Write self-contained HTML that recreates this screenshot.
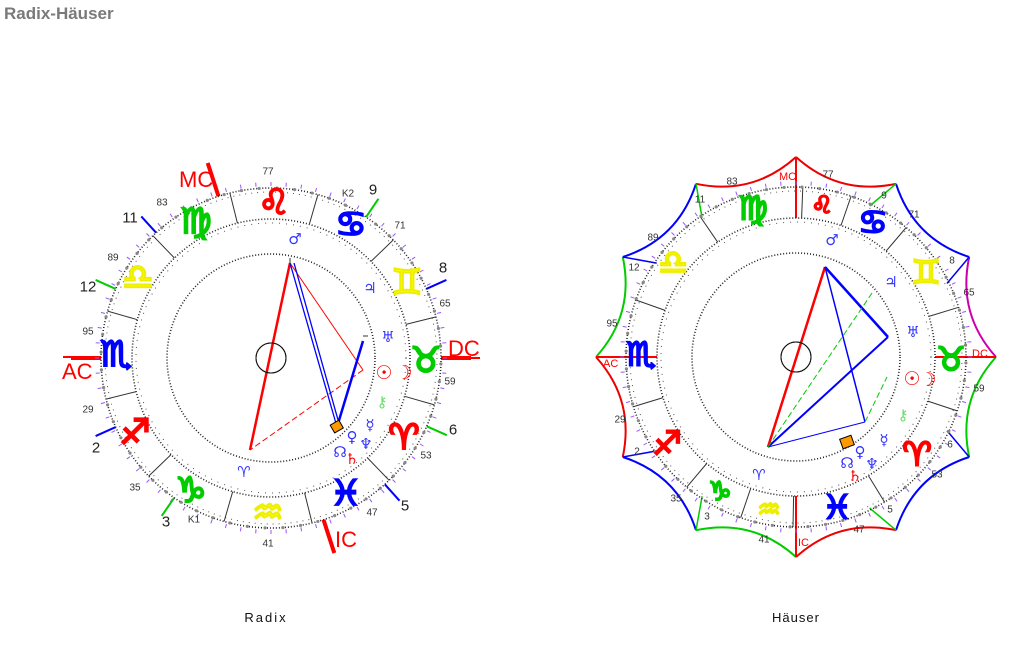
<!DOCTYPE html>
<html><head><meta charset="utf-8"><style>
html,body{margin:0;padding:0;background:#fff;width:1024px;height:651px;overflow:hidden}
svg{position:absolute;left:0;top:0}
.t{font-family:"Liberation Sans",sans-serif}
.g{font-family:"DejaVu Sans",sans-serif;font-weight:bold;text-anchor:middle;dominant-baseline:central}
.n{font-family:"Liberation Sans",sans-serif;font-size:10px;fill:#333;text-anchor:middle;dominant-baseline:central}
.h{font-family:"Liberation Sans",sans-serif;font-size:15px;fill:#222;text-anchor:middle;dominant-baseline:central}
.p{font-family:"DejaVu Sans",sans-serif;font-size:15px;text-anchor:middle;dominant-baseline:central}
</style></head><body>
<svg id="s" width="1024" height="651" viewBox="0 0 1024 651" xmlns="http://www.w3.org/2000/svg">
<g id="geo"></g>
<text x="4" y="19" class="t" font-size="17" font-weight="bold" fill="#7a7a7a">Radix-Häuser</text>
<text x="266" y="622" class="t" font-size="13" fill="#111" text-anchor="middle" letter-spacing="2">Radix</text>
<text x="796" y="622" class="t" font-size="13" fill="#111" text-anchor="middle" letter-spacing="1">Häuser</text>

<g class="g" font-size="35" stroke-width="2">
<text x="274" y="203" fill="#f00" stroke="#f00">♌</text>
<text x="351" y="225" fill="#00f" stroke="#00f">♋</text>
<text x="407" y="283" fill="#ff0" stroke="#ee0">♊</text>
<text x="426" y="361" fill="#0c0" stroke="#0c0">♉</text>
<text x="404" y="438" fill="#f00" stroke="#f00">♈</text>
<text x="346" y="494" fill="#00f" stroke="#00f">♓</text>
<text x="268" y="513" fill="#ff0" stroke="#ee0">♒</text>
<text x="191" y="491" fill="#0c0" stroke="#0c0">♑</text>
<text x="135" y="433" fill="#f00" stroke="#f00">♐</text>
<text x="116" y="355" fill="#00f" stroke="#00f">♏</text>
<text x="138" y="278" fill="#ff0" stroke="#ee0">♎</text>
<text x="196" y="222" fill="#0c0" stroke="#0c0">♍</text>
</g>
<g class="g" font-size="33" stroke-width="2">
<text x="822" y="205" fill="#f00" stroke="#f00" font-size="24">♌</text>
<text x="873" y="222" fill="#00f" stroke="#00f">♋</text>
<text x="926" y="272" fill="#ff0" stroke="#ee0">♊</text>
<text x="951" y="359" fill="#0c0" stroke="#0c0">♉</text>
<text x="917" y="454" fill="#f00" stroke="#f00">♈</text>
<text x="837" y="507" fill="#00f" stroke="#00f">♓</text>
<text x="769" y="510" fill="#ff0" stroke="#ee0" font-size="26">♒</text>
<text x="720" y="492" fill="#0c0" stroke="#0c0" font-size="26">♑</text>
<text x="667" y="443" fill="#f00" stroke="#f00">♐</text>
<text x="641" y="354" fill="#00f" stroke="#00f">♏</text>
<text x="673" y="262" fill="#ff0" stroke="#ee0">♎</text>
<text x="753" y="208" fill="#0c0" stroke="#0c0">♍</text>
</g>

<g class="p">
<text x="295" y="239" fill="#33f">♂</text>
<text x="370" y="288" fill="#33f">♃</text>
<text x="388" y="337" fill="#33f">♅</text>
<text x="384" y="373" fill="#f00" font-size="19">☉</text>
<text x="404" y="373" fill="#f00" font-size="19">☽</text>
<text x="382" y="402" fill="#6d6">⚷</text>
<text x="370" y="425" fill="#33f">☿</text>
<text x="352" y="437" fill="#33f">♀</text>
<text x="366" y="444" fill="#33f">♆</text>
<text x="340" y="452" fill="#33f">☊</text>
<text x="352" y="459" fill="#f00">♄</text>
<text x="244" y="472" fill="#33f">♈</text>
</g>
<g class="p">
<text x="832" y="240" fill="#33f">♂</text>
<text x="891" y="282" fill="#33f">♃</text>
<text x="913" y="332" fill="#33f">♅</text>
<text x="912" y="379" fill="#f00" font-size="19">☉</text>
<text x="928" y="380" fill="#f00" font-size="19">☽</text>
<text x="903" y="415" fill="#6d6">⚷</text>
<text x="884" y="440" fill="#33f">☿</text>
<text x="860" y="452" fill="#33f">♀</text>
<text x="872" y="464" fill="#33f">♆</text>
<text x="847" y="463" fill="#33f">☊</text>
<text x="855" y="476" fill="#f00">♄</text>
<text x="759" y="475" fill="#33f">♈</text>
</g>

<g class="n">
<text x="268" y="172">77</text><text x="162" y="203">83</text><text x="113" y="258">89</text>
<text x="88" y="332">95</text><text x="88" y="410">29</text><text x="135" y="488">35</text>
<text x="268" y="544">41</text><text x="372" y="513">47</text><text x="426" y="456">53</text>
<text x="450" y="382">59</text><text x="445" y="304">65</text><text x="400" y="226">71</text>
<text x="348" y="194">K2</text><text x="194" y="520">K1</text>
</g>
<g class="h">
<text x="130" y="218">11</text><text x="88" y="287">12</text><text x="96" y="448">2</text>
<text x="166" y="522">3</text><text x="405" y="506">5</text><text x="453" y="430">6</text>
<text x="443" y="268">8</text><text x="373" y="190">9</text>
</g>
<g class="t" font-size="22" fill="#f00">
<text x="179" y="187">MC</text>
<text x="62" y="379">AC</text>
<text x="448" y="356">DC</text>
<text x="335" y="547">IC</text>
</g>
<g class="n">
<text x="828" y="175">77</text><text x="732" y="182">83</text><text x="653" y="238">89</text>
<text x="612" y="324">95</text><text x="620" y="420">29</text><text x="676" y="499">35</text>
<text x="764" y="540">41</text><text x="859" y="530">47</text><text x="937" y="475">53</text>
<text x="979" y="389">59</text><text x="969" y="293">65</text><text x="914" y="215">71</text>
</g>
<g class="n" font-size="8">
<text x="884" y="196">9</text><text x="700" y="200">11</text><text x="634" y="268">12</text>
<text x="952" y="261">8</text><text x="950" y="445">6</text><text x="890" y="510">5</text>
<text x="707" y="517">3</text><text x="637" y="452">2</text>
</g>
<g class="t" font-size="11" fill="#f00">
<text x="779" y="180">MC</text><text x="603" y="367">AC</text>
<text x="972" y="357">DC</text><text x="798" y="546">IC</text>
</g>
</svg>
<script>
(function(){
var G=document.getElementById("geo"),o="";
function P(c,r,a){a=a*Math.PI/180;return [c[0]+r*Math.sin(a),c[1]-r*Math.cos(a)];}
function L(p,q,col,w,extra){o+='<line x1="'+p[0].toFixed(1)+'" y1="'+p[1].toFixed(1)+'" x2="'+q[0].toFixed(1)+'" y2="'+q[1].toFixed(1)+'" stroke="'+col+'" stroke-width="'+w+'" '+(extra||'')+'/>';}
function C(c,r,extra){o+='<circle cx="'+c[0]+'" cy="'+c[1]+'" r="'+r+'" fill="none" '+extra+'/>';}
function chart(c,bounds){
  C(c,170,'stroke="#222" stroke-width="1.6" stroke-dasharray="1 2"');
  C(c,166,'stroke="#555" stroke-width="1" stroke-dasharray="1 5"');
  C(c,139,'stroke="#222" stroke-width="1.6" stroke-dasharray="1 2"');
  C(c,135,'stroke="#555" stroke-width="1" stroke-dasharray="1 6"');
  C(c,104,'stroke="#222" stroke-width="1.6" stroke-dasharray="1 2"');
  C(c,15,'stroke="#111" stroke-width="1" fill="#fff"');
  bounds.forEach(function(a){L(P(c,139,a),P(c,170,a),"#333",1);});
  for(var a=0;a<360;a+=5){L(P(c,172,a),P(c,176,a),"#95f",1);}
  for(var a=2;a<360;a+=6){var p=P(c,170,a);o+='<circle cx="'+p[0]+'" cy="'+p[1]+'" r="1.6" fill="#888"/>';}
}
var A=[271,358],B=[796,357];
var lb=[];for(var k=0;k<12;k++)lb.push(16+30*k);
var cus=[[342,"#f00",4,205],[270,"#f00",4,200],[90,"#f00",4,200],[162,"#f00",4,205],
[317.5,"#00f",2,192],[294,"#0c0",2,192],[246,"#00f",2,192],[214.7,"#0c0",2,192],
[138,"#00f",2,192],[113.7,"#0c0",2,192],[66,"#00f",2,192],[34,"#0c0",2,192]];
cus.forEach(function(x){L(P(A,170,x[0]),P(A,x[3],x[0]),x[1],x[2]);});
L([63,357],[98,357],"#f00",2);L([448,358],[480,358],"#f00",2);
// right star
var cols=["#e00","#00f","#c0a","#0c0","#00f","#e00","#0c0","#00f","#e00","#0c0","#00f","#e00"];
for(var k=0;k<12;k++){var a=k*30,p=P(B,200,a),q=P(B,200,a+30),m=P(B,180,a+15);
 var ctl=[2*m[0]-(p[0]+q[0])/2,2*m[1]-(p[1]+q[1])/2];
 o+='<path d="M'+p[0]+' '+p[1]+' Q'+ctl[0]+' '+ctl[1]+' '+q[0]+' '+q[1]+'" fill="none" stroke="'+cols[k]+'" stroke-width="2"/>';
 var col=(k%2)?"#0c0":"#00f";
 if(k%3==0)L(p,P(B,139,a),"#f00",2);else L(p,P(B,168,a+(k<6?-4:4)*(k%3==1?1:-1)),col,1.5);
}
chart(A,lb);
chart(B,[2.3,18.9,40.4,73,108.5,148.6,181,199,220,253,289.6,325.7]);
L([290,263],[250,450],"#f00",2.5);L([290,263],[363,370],"#f00",1);
L([363,370],[250,450],"#f00",1,'stroke-dasharray="6 3"');
L([290,263],[337,427],"#00f",1.3);L([294,263],[340,427],"#00f",1.3);
L([363,341],[337,427],"#00f",2.5);
L([290,258],[290,266],"#333",1);L([363,336],[368,336],"#333",1);
o+='<rect x="332" y="422" width="10" height="9" fill="#f90" stroke="#000" stroke-width="1" transform="rotate(-30 337 427)"/>';
o+='<rect x="841" y="437" width="12" height="10" fill="#f90" stroke="#000" stroke-width="1" transform="rotate(-20 847 442)"/>';
L([825,267],[768,447],"#f00",2.5);
L([825,267],[888,337],"#00f",2.5);L([825,267],[865,422],"#00f",1.5);
L([888,337],[768,447],"#00f",2);L([768,447],[865,422],"#00f",1);
L([768,447],[872,293],"#0c0",1,'stroke-dasharray="6 3"');
L([865,422],[887,377],"#0c0",1,'stroke-dasharray="6 3"');
C(A,15,'stroke="#111" stroke-width="1" fill="#fff"');
C(B,15,'stroke="#111" stroke-width="1" fill="#fff"');
G.innerHTML=o;
})();
</script>
</body></html>
